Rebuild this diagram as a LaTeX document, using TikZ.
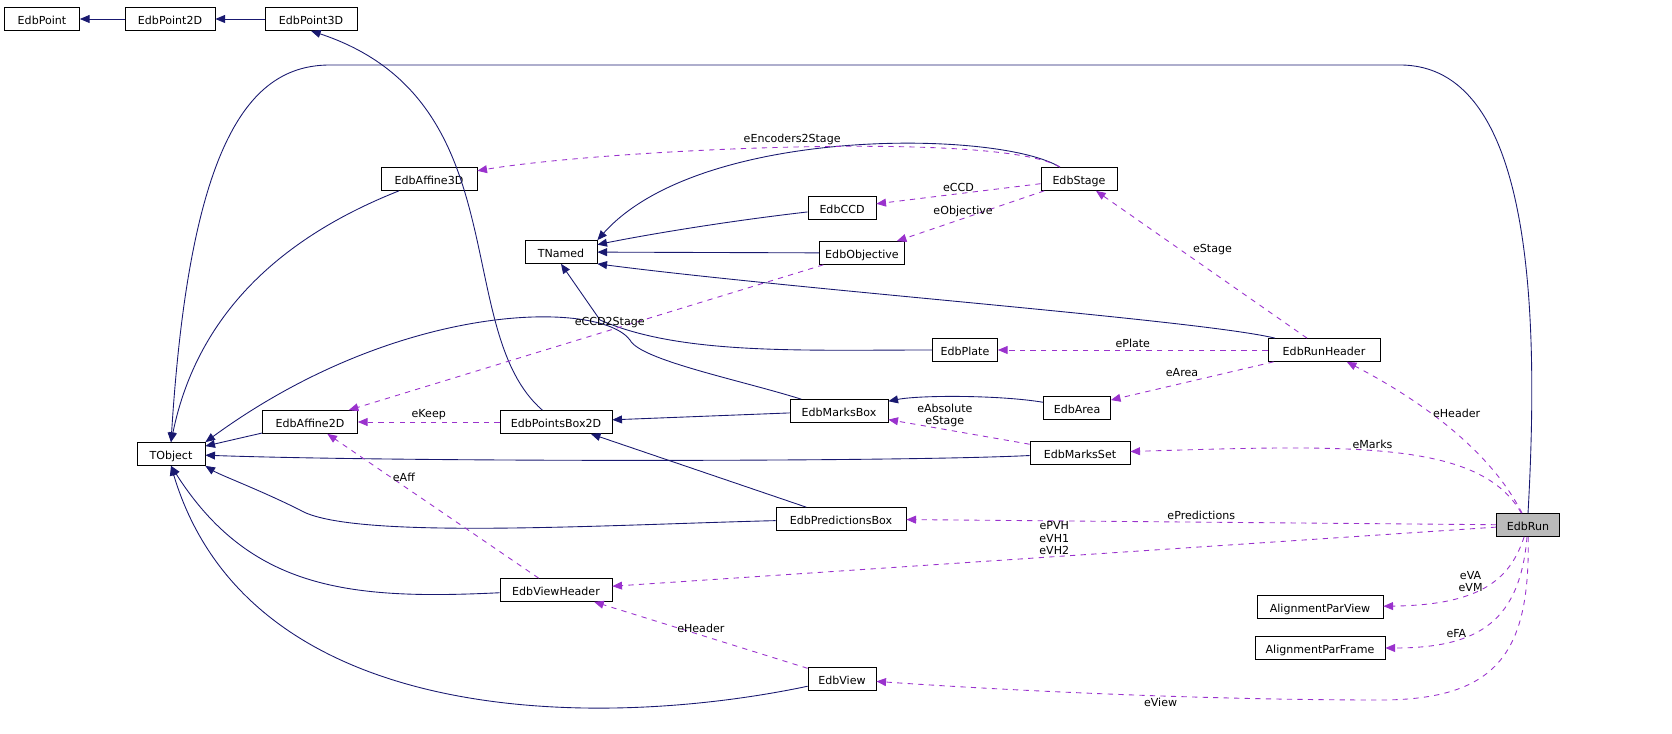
\documentclass[tikz,border=0pt]{standalone}
\usepackage{fontspec}
\setmainfont{DejaVu Sans}
\usetikzlibrary{arrows.meta}
\definecolor{nv}{HTML}{191970}
\definecolor{pu}{HTML}{9A32CD}
\begin{document}
\begin{tikzpicture}[x=0.02cm,y=-0.02cm,
 every node/.style={font=\fontsize{6.3}{7}\selectfont},
 box/.style={draw,fill=white,inner sep=0pt,minimum height=23*0.02cm,text height=1.6ex,text depth=0.4ex},
 inh/.style={nv,-{Triangle[length=5.5pt,width=4.5pt]},line width=0.5pt},
 use/.style={pu,dashed,-{Triangle[length=5.5pt,width=4.5pt]},line width=0.5pt},
 lab/.style={black,align=center,inner sep=1pt}]
\def\B#1#2#3#4#5{\node[box,minimum width=#4*0.02cm] (#1) at (#2,#3) {#5};}
\B{P}{42}{19}{75}{EdbPoint}
\B{P2}{170}{19}{90}{EdbPoint2D}
\B{P3}{311}{19}{92}{EdbPoint3D}
\B{TO}{171}{454}{68}{TObject}
\B{TN}{561}{252}{72}{TNamed}
\B{A3}{429}{179}{96}{EdbAffine3D}
\B{CCD}{842}{208}{68}{EdbCCD}
\B{ST}{1079}{179}{76}{EdbStage}
\B{OB}{862}{253}{85}{EdbObjective}
\B{PL}{965}{350}{65}{EdbPlate}
\B{RH}{1324}{350}{112}{EdbRunHeader}
\B{A2}{310}{422}{95}{EdbAffine2D}
\B{PB}{556}{422}{112}{EdbPointsBox2D}
\B{MB}{839}{411}{98}{EdbMarksBox}
\B{AR}{1077}{408}{67}{EdbArea}
\B{MS}{1080}{453}{100}{EdbMarksSet}
\B{PR}{841}{519}{130}{EdbPredictionsBox}
\node[box,fill=black!27,minimum width=63*0.02cm] (RUN) at (1528,525) {EdbRun};
\B{VH}{556}{590}{112}{EdbViewHeader}
\B{APV}{1320}{607}{126}{AlignmentParView}
\B{APF}{1320}{648}{130}{AlignmentParFrame}
\B{VW}{842}{679}{68}{EdbView}
% inheritance
\draw[inh] (P2) -- (P);
\draw[inh] (P3) -- (P2);
\draw[inh] (RUN.north) .. controls (1540,300) and (1530,65) .. (1400,65) -- (330,65) .. controls (250,65) and (190,140) .. (TO.north);
\draw[inh] (A3) .. controls (300,230) and (200,300) .. (TO.north);
\draw[inh] (CCD) .. controls (720,222) and (640,236) .. (TN);
\draw[inh] (ST) .. controls (1000,130) and (700,125) .. (TN.north east);
\draw[inh] (OB) -- (TN);
\draw[inh] (RH) .. controls (1200,320) and (800,290) .. (TN.south east);
\draw[inh] (PL) .. controls (800,350) and (680,355) .. (600,320) -- (TN.south);
\draw[inh] (PB) .. controls (450,330) and (520,100) .. (P3.south);
\draw[inh] (MB) -- (PB);
\draw[inh] (MB) .. controls (740,380) and (640,360) .. (630,340) .. controls (600,300) and (400,300) .. (TO.north east);
\draw[inh] (AR) .. controls (1000,395) and (920,395) .. (MB);
\draw[inh] (A2) -- (TO);
\draw[inh] (MS) .. controls (900,462) and (400,462) .. (TO);
\draw[inh] (PR) -- (PB);
\draw[inh] (PR) .. controls (600,525) and (350,540) .. (300,510) .. controls (260,490) and (220,475) .. (TO.south east);
\draw[inh] (VH) .. controls (350,600) and (250,590) .. (TO.south);
\draw[inh] (VW) .. controls (600,730) and (250,730) .. (TO.south);
% usage
\draw[use] (ST) .. controls (1000,130) and (600,150) .. node[lab,pos=0.5,above]{eEncoders2Stage} (A3);
\draw[use] (ST) -- node[lab,above]{eCCD} (CCD);
\draw[use] (ST) -- node[lab,above,pos=0.55]{eObjective} (OB);
\draw[use] (RH) -- node[lab,above right,pos=0.55]{eStage} (ST);
\draw[use] (OB) -- node[lab,pos=0.45,above]{eCCD2Stage} (A2);
\draw[use] (RH) -- node[lab,above]{ePlate} (PL);
\draw[use] (RH) -- node[lab,above left,pos=0.45]{eArea} (AR);
\draw[use] (PB) -- node[lab,above]{eKeep} (A2);
\draw[use] (MS) -- node[lab,above,pos=0.6]{eAbsolute\\eStage} (MB);
\draw[use] (VH) -- node[lab,right,pos=0.7]{eAff} (A2);
\draw[use] (RUN) .. controls (1490,450) and (1420,400) .. node[lab,right,pos=0.6]{eHeader} (RH);
\draw[use] (RUN) .. controls (1480,440) and (1350,445) .. node[lab,above,pos=0.55]{eMarks} (MS);
\draw[use] (RUN) -- node[lab,above,pos=0.5]{ePredictions} (PR);
\draw[use] (RUN) -- node[lab,above,pos=0.5]{ePVH\\eVH1\\eVH2} (VH);
\draw[use] (RUN) .. controls (1510,580) and (1480,605) .. node[lab,above,pos=0.6]{eVA\\eVM} (APV);
\draw[use] (RUN) .. controls (1520,620) and (1480,648) .. node[lab,above,pos=0.7]{eFA} (APF);
\draw[use] (RUN) .. controls (1530,650) and (1500,700) .. (1380,700) .. controls (1200,700) and (1000,690) .. node[lab,below,pos=0.4]{eView} (VW);
\draw[use] (VW) -- node[lab,above,pos=0.5]{eHeader} (VH);
\pgfresetboundingbox
\path[use as bounding box] (0,0) rectangle (1672,733);
\end{tikzpicture}
\end{document}
